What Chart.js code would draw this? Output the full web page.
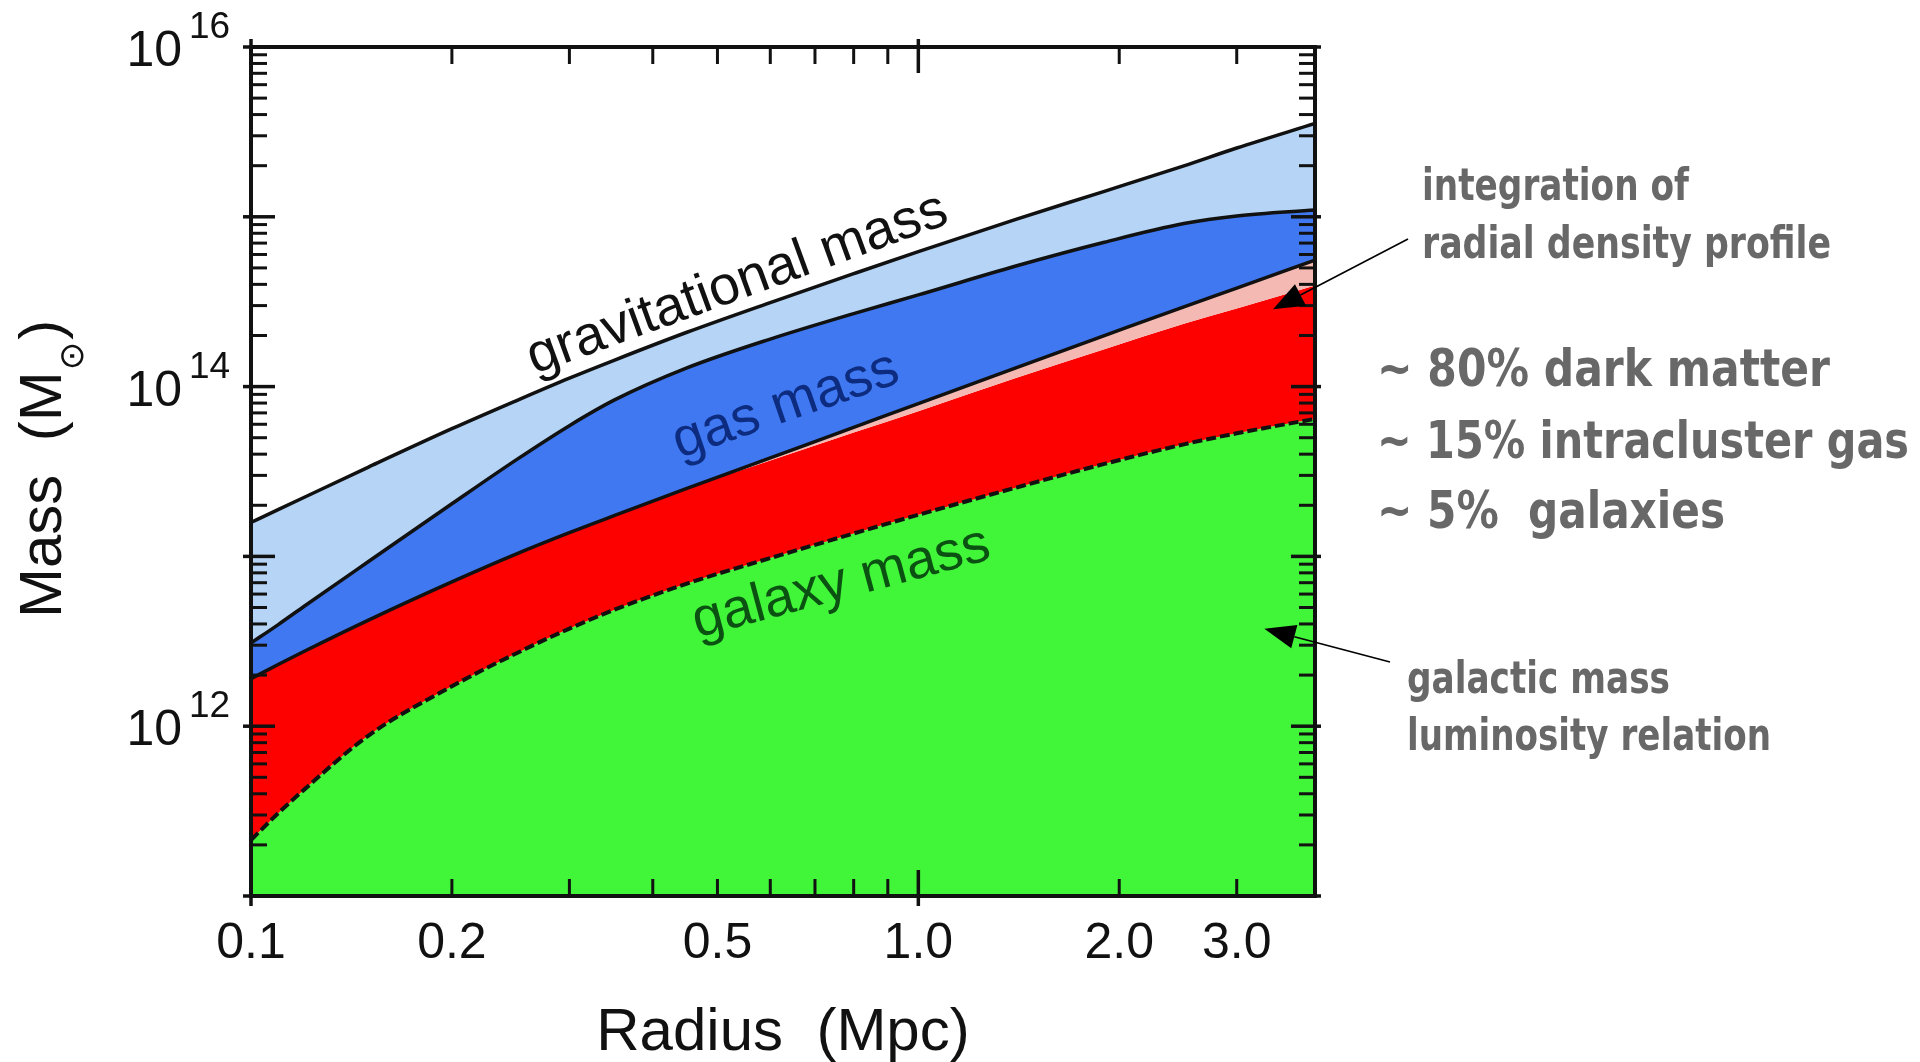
<!DOCTYPE html>
<html>
<head>
<meta charset="utf-8">
<title>Cluster mass vs radius</title>
<script src="https://cdn.jsdelivr.net/npm/chart.js@4.4.1/dist/chart.umd.min.js"></script>
<style>
    html, body { margin: 0; padding: 0; background: #fff; }
    canvas { display: block; }
</style>
</head>
<body>
<canvas id="massChart" width="1920" height="1062"></canvas>
<script>
// --- Data ---
// radius in Mpc, masses as log10(M / Msun)
const radius       = [0.1, 0.11, 0.12, 0.15, 0.2, 0.25, 0.3, 0.35, 0.45, 0.6, 0.8, 1.0, 1.4, 1.9, 2.5, 3.0, 3.93];
const logGravMass  = [13.20, 13.277, 13.347, 13.526, 13.752, 13.918, 14.05, 14.155, 14.32, 14.495, 14.665, 14.795, 14.985, 15.15, 15.30, 15.405, 15.55];
const logGasTop    = [12.49, 12.60, 12.705, 12.97, 13.31, 13.57, 13.77, 13.92, 14.11, 14.28, 14.43, 14.54, 14.71, 14.85, 14.96, 15.005, 15.04];
const logGasBottom = [12.28, 12.365, 12.44, 12.625, 12.85, 13.015, 13.14, 13.24, 13.40, 13.58, 13.76, 13.90, 14.11, 14.30, 14.47, 14.58, 14.745];
const logDarkTop   = [12.28, 12.365, 12.44, 12.625, 12.85, 13.015, 13.14, 13.24, 13.40, 13.565, 13.73, 13.855, 14.05, 14.22, 14.37, 14.46, 14.595];
const logGalaxy    = [11.33, 11.49, 11.625, 11.945, 12.235, 12.43, 12.575, 12.685, 12.84, 12.99, 13.135, 13.245, 13.405, 13.545, 13.66, 13.725, 13.81];

// axis ticks
const xLabelValues = [0.1, 0.2, 0.5, 1.0, 2.0, 3.0];
const xTickLabels  = ['0.1', '0.2', '0.5', '1.0', '2.0', '3.0'];
const xMajorTicks  = [0.1, 1.0];
const xMinorTicks  = [0.2, 0.3, 0.4, 0.5, 0.6, 0.7, 0.8, 0.9, 2.0, 3.0];
const yLabelValues = [1e12, 1e14, 1e16];
const yTickBase    = ['10', '10', '10'];
const yTickExp     = ['12', '14', '16'];
const yDecades     = [1e11, 1e12, 1e13, 1e14, 1e15, 1e16];

// curve labels and side notes
const curveLabels  = ['gravitational mass', 'gas mass', 'galaxy mass'];
const curveAnchorR = [0.2657, 0.4385, 0.4667];
const curveAnchorM = [14.072, 13.577, 12.521];
const noteTexts    = ['integration of', 'radial density profile', '~ 80% dark matter',
                      '~ 15% intracluster gas', '~ 5%  galaxies', 'galactic mass', 'luminosity relation'];
const arrowTipR    = [3.40, 3.30];
const arrowTipM    = [14.455, 12.574];

const FONT = "'Liberation Sans', Arial, Helvetica, sans-serif";
const HAND = "'Liberation Sans Narrow', 'DejaVu Sans Condensed', 'Noto Sans', sans-serif";

function toPoints(logs) {
    return radius.map((r, i) => ({ x: r, y: Math.pow(10, logs[i]) }));
}

// --- Helpers for the overlay ---
function fitText(ctx, text, x, y, targetW) {
    const w = ctx.measureText(text).width;
    ctx.save();
    ctx.translate(x, y);
    ctx.scale(targetW / w, 1);
    ctx.fillText(text, 0, 0);
    ctx.restore();
}

function drawArrow(ctx, fx, fy, tx, ty) {
    const ang = Math.atan2(ty - fy, tx - fx);
    const L = 31, W = 12;
    const bx = tx - L * Math.cos(ang), by = ty - L * Math.sin(ang);
    ctx.lineWidth = 1.6;
    ctx.beginPath();
    ctx.moveTo(fx, fy);
    ctx.lineTo(bx, by);
    ctx.stroke();
    ctx.beginPath();
    ctx.moveTo(tx, ty);
    ctx.lineTo(bx + W * Math.sin(ang), by - W * Math.cos(ang));
    ctx.lineTo(bx - W * Math.sin(ang), by + W * Math.cos(ang));
    ctx.closePath();
    ctx.fill();
}

// --- Axes, ticks, labels, notes drawn on top ---
const overlayPlugin = {
    id: 'overlay',
    afterDraw(chart) {
        const { ctx, chartArea: a, scales: { x, y } } = chart;
        ctx.save();
        ctx.strokeStyle = '#111';
        ctx.fillStyle = '#111';

        const tick = (x1, y1, x2, y2, w) => {
            ctx.lineWidth = w;
            ctx.beginPath();
            ctx.moveTo(x1, y1);
            ctx.lineTo(x2, y2);
            ctx.stroke();
        };

        // y ticks (left + right, pointing inward)
        yDecades.forEach((d, i) => {
            const py = y.getPixelForValue(d);
            tick(a.left - 8, py, a.left + 24, py, 3.5);
            tick(a.right - 24, py, a.right + 6, py, 3.5);
            if (i === yDecades.length - 1) return;
            for (let k = 2; k <= 9; k++) {
                const pm = y.getPixelForValue(d * k);
                tick(a.left, pm, a.left + 16, pm, 3);
                tick(a.right - 16, pm, a.right, pm, 3);
            }
        });

        // x ticks (top + bottom)
        xMajorTicks.forEach(v => {
            const px = x.getPixelForValue(v);
            tick(px, a.top - 8, px, a.top + 26, 3.5);
            tick(px, a.bottom - 26, px, a.bottom + 10, 3.5);
        });
        xMinorTicks.forEach(v => {
            const px = x.getPixelForValue(v);
            tick(px, a.top, px, a.top + 17, 3);
            tick(px, a.bottom - 17, px, a.bottom, 3);
        });

        // frame
        ctx.lineWidth = 4;
        ctx.strokeRect(a.left, a.top, a.right - a.left, a.bottom - a.top);

        // x tick labels
        ctx.font = '50px ' + FONT;
        ctx.textAlign = 'center';
        ctx.textBaseline = 'alphabetic';
        xLabelValues.forEach((v, i) => {
            ctx.fillText(xTickLabels[i], x.getPixelForValue(v), 958);
        });

        // y tick labels with superscript exponent
        yLabelValues.forEach((v, i) => {
            const py = y.getPixelForValue(v);
            ctx.font = '50px ' + FONT;
            ctx.textAlign = 'right';
            ctx.fillText(yTickBase[i], 182, py + 19);
            ctx.font = '37px ' + FONT;
            ctx.textAlign = 'left';
            ctx.fillText(yTickExp[i], 189, py - 9);
        });

        // axis titles
        ctx.font = '60px ' + FONT;
        ctx.textAlign = 'center';
        ctx.fillText('Radius  (Mpc)', (a.left + a.right) / 2, 1050);

        ctx.save();
        ctx.translate(61, 618);
        ctx.rotate(-Math.PI / 2);
        ctx.textAlign = 'left';
        ctx.font = '60px ' + FONT;
        const part1 = 'Mass  (M';
        ctx.fillText(part1, 0, 0);
        let off = ctx.measureText(part1).width;
        ctx.font = '34px DejaVu Sans';
        ctx.fillText('\u2299', off + 1, 22);
        off += ctx.measureText('\u2299').width + 3;
        ctx.font = '60px ' + FONT;
        ctx.fillText(')', off, 0);
        ctx.restore();

        // curve labels along the bands
        const labelAngle = [-20, -19, -15];
        const labelColor = ['#111111', '#0d2c80', '#0b5212'];
        curveLabels.forEach((t, i) => {
            const px = x.getPixelForValue(curveAnchorR[i]);
            const py = y.getPixelForValue(Math.pow(10, curveAnchorM[i]));
            ctx.save();
            ctx.translate(px, py);
            ctx.rotate(labelAngle[i] * Math.PI / 180);
            ctx.font = '55px ' + FONT;
            ctx.fillStyle = labelColor[i];
            ctx.textAlign = 'left';
            ctx.fillText(t, 0, 0);
            ctx.restore();
        });

        // side notes
        const noteLayout = [
            { x: 1422, y: 200, w: 267, size: 44 },
            { x: 1422, y: 258, w: 409, size: 44 },
            { x: 1377, y: 386, w: 453, size: 52 },
            { x: 1377, y: 458, w: 532, size: 52 },
            { x: 1377, y: 528, w: 348, size: 52 },
            { x: 1407, y: 693, w: 263, size: 44 },
            { x: 1407, y: 750, w: 364, size: 44 }
        ];
        ctx.fillStyle = '#686868';
        ctx.textAlign = 'left';
        noteTexts.forEach((t, i) => {
            const n = noteLayout[i];
            ctx.font = 'bold ' + n.size + 'px ' + HAND;
            fitText(ctx, t, n.x, n.y, n.w);
        });

        // arrows from the notes into the plot
        const arrowFrom = [[1408, 239], [1390, 662]];
        ctx.fillStyle = '#000';
        ctx.strokeStyle = '#000';
        arrowTipR.forEach((r, i) => {
            const tx = x.getPixelForValue(r);
            const ty = y.getPixelForValue(Math.pow(10, arrowTipM[i]));
            drawArrow(ctx, arrowFrom[i][0], arrowFrom[i][1], tx, ty);
        });

        ctx.restore();
    }
};

// --- Chart ---
const chartCanvas = document.getElementById('massChart');
new Chart(chartCanvas, {
    type: 'line',
    data: {
        datasets: [
            {   // total gravitational mass, light blue band down to gas
                label: 'gravitational mass',
                data: toPoints(logGravMass),
                borderColor: '#111', borderWidth: 3.5,
                backgroundColor: '#b5d4f6', fill: 1
            },
            {   // gas band
                label: 'gas top',
                data: toPoints(logGasTop),
                borderColor: '#111', borderWidth: 3.5,
                backgroundColor: '#3f78f0', fill: 2
            },
            {   // thin pink band
                label: 'gas bottom',
                data: toPoints(logGasBottom),
                borderColor: '#111', borderWidth: 3.5,
                backgroundColor: '#f5b9b3', fill: 3
            },
            {   // dark matter (red)
                label: 'dark matter top',
                data: toPoints(logDarkTop),
                borderColor: 'rgba(0,0,0,0)', borderWidth: 1,
                backgroundColor: '#fd0000', fill: 4
            },
            {   // galaxy mass (green)
                label: 'galaxy mass',
                data: toPoints(logGalaxy),
                borderColor: '#111', borderWidth: 4, borderDash: [10, 4],
                backgroundColor: '#41f539', fill: 'start'
            }
        ]
    },
    options: {
        responsive: false,
        animation: false,
        layout: { padding: { left: 251, right: 605, top: 47, bottom: 166 } },
        elements: {
            point: { radius: 0 },
            line: { cubicInterpolationMode: 'monotone', borderJoinStyle: 'round' }
        },
        plugins: {
            legend: { display: false },
            tooltip: { enabled: false },
            filler: { drawTime: 'beforeDatasetsDraw', propagate: false }
        },
        scales: {
            x: { type: 'logarithmic', min: 0.1, max: 3.93, display: false },
            y: { type: 'logarithmic', min: 1e11, max: 1e16, display: false }
        }
    },
    plugins: [overlayPlugin]
});
</script>
</body>
</html>
